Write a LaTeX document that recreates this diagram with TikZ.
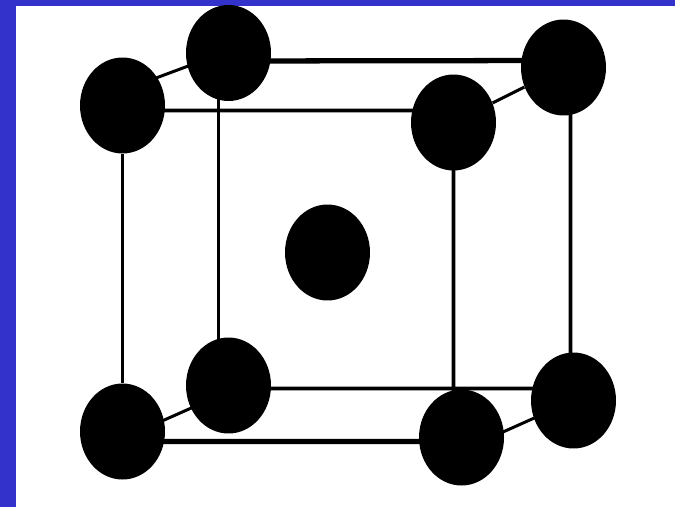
\documentclass[tikz,border=0pt]{standalone}
\usepackage{xcolor}
\usepackage{tikz}
\usetikzlibrary{shapes.geometric,calc}
\definecolor{slideblue}{RGB}{51,51,204}

\begin{document}
\begin{tikzpicture}[
  x=0.02cm,y=-0.02cm,
  atom/.style={ellipse,fill=black,inner sep=0pt,minimum width=1.7cm,minimum height=1.92cm},
  bond/.style={line width=2.2pt},
  thickbond/.style={line width=3pt},
  link/.style={line width=1.7pt},
]
\useasboundingbox (0,0) rectangle (675,507);
\fill[slideblue] (0,0) rectangle (675,507);
\fill[white] (16,6) rectangle (675,507);
% corners and centre
\node[atom] (ftl) at (122.5,105.5) {};
\node[atom] (btl) at (228.5,53) {};
\node[atom] (btr) at (563.5,67.5) {};
\node[atom] (ftr) at (453.5,122.5) {};
\node[atom] (mid) at (327.5,252.5) {};
\node[atom] (bbl) at (228.5,385.5) {};
\node[atom] (fbl) at (122.5,431.5) {};
\node[atom] (fbr) at (461.5,437.5) {};
\node[atom] (bbr) at (573.5,400.5) {};
% top face
\draw[link] ([yshift=0.3cm]ftl.center) -- ([yshift=0.04cm]btl.center);
\draw[link] (ftr) -- (btr);
\draw[thickbond] ([yshift=-0.16cm]btl.center) -- ([yshift=0.14cm]btr.center);
\draw[bond] ([yshift=-0.1cm]ftl.center) -- ([yshift=0.24cm]ftr.center);
% bottom face
\draw[link] ([yshift=-0.14cm]fbl.center) -- ([yshift=-0.12cm]bbl.center);
\draw[link] ([yshift=-0.26cm]fbr.center) -- (bbr.center);
\draw[bond] ([yshift=-0.06cm]bbl.center) -- ([yshift=0.24cm]bbr.center);
\draw[thickbond] ([yshift=-0.2cm]fbl.center) -- ([yshift=-0.08cm]fbr.center);
% uprights
\draw[bond] (ftl) -- (fbl);
\draw[bond] ([xshift=-0.2cm]btl.center) -- ([xshift=-0.2cm]bbl.center);
\draw[bond] (ftr.center) -- ([xshift=-0.16cm]fbr.center);
\draw[bond] ([xshift=0.14cm]btr.center) -- ([xshift=-0.06cm]bbr.center);
\end{tikzpicture}
\end{document}
